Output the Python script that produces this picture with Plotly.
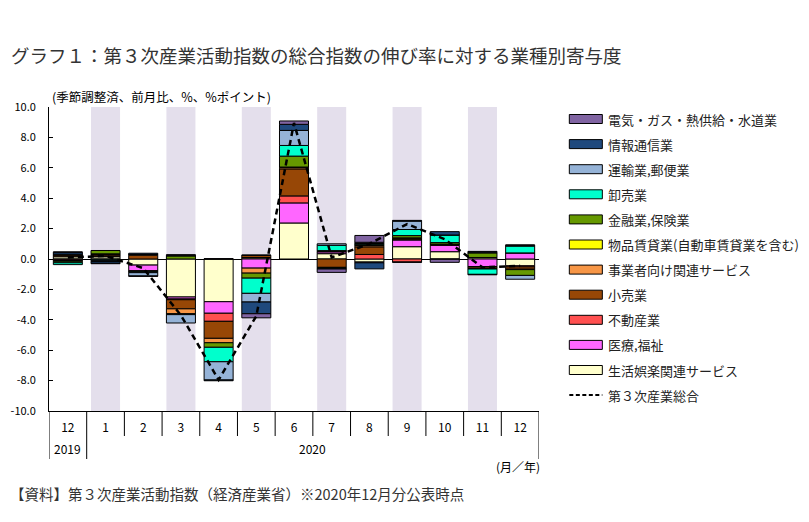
import plotly.graph_objects as go

# ---------------- data ----------------
months = ["2019-12", "2020-01", "2020-02", "2020-03", "2020-04", "2020-05", "2020-06",
          "2020-07", "2020-08", "2020-09", "2020-10", "2020-11", "2020-12"]
month_labels = ["12", "1", "2", "3", "4", "5", "6", "7", "8", "9", "10", "11", "12"]
year_labels = ["2019", "2020"]

y_tickvals = [10, 8, 6, 4, 2, 0, -2, -4, -6, -8, -10]
y_ticktext = ["10.0", "8.0", "6.0", "4.0", "2.0", "0.0", "-2.0", "-4.0", "-6.0", "-8.0", "-10.0"]

life_leisure = [0.15, 0.15, -0.40, -2.50, -2.81, 0.08, 2.37, 0.35, -0.20, 0.81, 0.48, 0.10, -0.45]
medical      = [-0.05, -0.05, -0.38, -0.13, -0.76, -0.60, 1.32, 0.12, -0.05, 0.44, 0.42, -0.50, 0.40]
real_estate  = [-0.05, 0.05, -0.02, -0.05, -0.53, 0.02, 0.46, 0.03, 0.30, -0.20, -0.02, -0.03, -0.07]
retail       = [0.12, 0.08, 0.25, -0.60, -1.12, 0.15, 1.78, -0.55, 0.50, 0.07, 0.05, -0.10, -0.15]
business     = [-0.05, 0.05, 0.05, -0.33, -0.29, -0.33, 0.10, 0.05, 0.10, 0.05, 0.03, -0.03, -0.03]
rental       = [0.00, 0.01, 0.00, -0.02, 0.00, 0.00, 0.02, 0.00, 0.02, 0.02, 0.00, 0.00, 0.00]
finance      = [-0.10, 0.22, -0.05, 0.20, -0.30, -0.33, 0.72, -0.05, 0.05, 0.15, 0.10, 0.30, -0.38]
wholesale    = [-0.12, -0.06, -0.05, -0.03, -0.95, -1.00, 0.70, 0.35, 0.05, 0.40, 0.50, -0.35, 0.45]
transport    = [0.05, -0.05, -0.22, -0.55, -1.20, -0.57, 0.99, 0.10, 0.08, 0.55, 0.00, 0.05, -0.25]
ict          = [0.12, -0.12, 0.08, 0.05, -0.05, -0.77, 0.40, -0.06, -0.40, 0.05, 0.22, 0.05, 0.05]
utilities    = [0.03, -0.03, -0.02, 0.03, 0.02, -0.27, 0.22, -0.22, 0.45, -0.02, -0.20, -0.03, 0.03]
total        = [0.10, 0.20, -0.60, -3.70, -7.95, -3.75, 8.95, 0.10, 1.00, 2.30, 1.30, -0.55, -0.45]

names_bottom_up = ["生活娯楽関連サービス", "医療,福祉", "不動産業", "小売業", "事業者向け関連サービス",
                   "物品賃貸業(自動車賃貸業を含む)", "金融業,保険業", "卸売業", "運輸業,郵便業",
                   "情報通信業", "電気・ガス・熱供給・水道業"]
total_name = "第３次産業総合"
colors_bottom_up = ["#FFFFCC", "#FF66FF", "#FF5050", "#974706", "#F79646",
                    "#FFFF00", "#669900", "#00FFCC", "#95B3D7", "#1F497D", "#8064A2"]
values_bottom_up = [life_leisure, medical, real_estate, retail, business, rental,
                    finance, wholesale, transport, ict, utilities]

# ---------------- layout geometry ----------------
OFF = 8  # page body margin
W_FIG, H_FIG = 809 - OFF, 522 - OFF
L, R, T, B = 49, 538.7, 107, 411   # plot area in page pixels
PW, PH = R - L, B - T
FONT = "Noto Sans CJK JP"


def px(x):
    return (x - L) / PW


def py(y):
    return (B - y) / PH


fig = go.Figure()

for name, vals, col in zip(names_bottom_up, values_bottom_up, colors_bottom_up):
    fig.add_trace(go.Bar(x=months, y=vals, name=name, showlegend=False,
                         marker=dict(color=col, line=dict(color="black", width=1))))

fig.add_trace(go.Scatter(x=months, y=total, name=total_name, mode="lines", showlegend=False,
                         line=dict(color="black", width=2.5, dash="6px,4px")))

shapes = []
# shaded month bands
for i in range(1, len(months), 2):
    shapes.append(dict(type="rect", xref="x", yref="paper", x0=i - 0.385, x1=i + 0.385,
                       y0=0, y1=1, fillcolor="#E4DFEC", line=dict(width=0), layer="below"))
# category table lines
for i in range(len(months) + 1):
    xb = i - 0.5
    y_end = py(459) if i in (0, 1, len(months)) else py(436)
    shapes.append(dict(type="line", xref="x", yref="paper", x0=xb, x1=xb, y0=0, y1=y_end,
                       line=dict(color="black", width=1)))

annotations = []
# custom legend
leg_items = list(zip(names_bottom_up[::-1], colors_bottom_up[::-1]))
for k, (name, col) in enumerate(leg_items):
    yc = 119 + 25.1 * k
    shapes.append(dict(type="rect", xref="paper", yref="paper", x0=px(569), x1=px(602),
                       y0=py(yc + 4.5), y1=py(yc - 4.5), fillcolor=col,
                       line=dict(color="black", width=1)))
    annotations.append(dict(text=name, xref="paper", yref="paper", x=px(606), y=py(yc),
                            xanchor="left", yanchor="middle", showarrow=False,
                            font=dict(family=FONT, size=13, color="#222")))
yc = 119 + 25.1 * len(leg_items)
shapes.append(dict(type="line", xref="paper", yref="paper", x0=px(569), x1=px(602),
                   y0=py(yc), y1=py(yc), line=dict(color="black", width=2, dash="4px,2.5px")))
annotations.append(dict(text=total_name, xref="paper", yref="paper", x=px(606), y=py(yc),
                        xanchor="left", yanchor="middle", showarrow=False,
                        font=dict(family=FONT, size=13, color="#222")))

# year labels
annotations.append(dict(text=year_labels[0], xref="x", yref="paper", x=0, y=py(448),
                        showarrow=False, yanchor="middle",
                        font=dict(family=FONT, size=12, color="black")))
annotations.append(dict(text=year_labels[1], xref="x", yref="paper", x=6.5, y=py(448),
                        showarrow=False, yanchor="middle",
                        font=dict(family=FONT, size=12, color="black")))
annotations.append(dict(text="(月／年)", xref="paper", yref="paper", x=px(542), y=py(466),
                        xanchor="right", yanchor="middle", showarrow=False,
                        font=dict(family=FONT, size=12, color="black")))
# unit label
annotations.append(dict(text="(季節調整済、前月比、%、%ポイント)", xref="paper", yref="paper",
                        x=px(50), y=py(97), xanchor="left", yanchor="middle", showarrow=False,
                        font=dict(family=FONT, size=12.5, color="black")))
# title
annotations.append(dict(text="グラフ１：第３次産業活動指数の総合指数の伸び率に対する業種別寄与度",
                        xref="paper", yref="paper", x=px(9), y=py(55), xanchor="left",
                        yanchor="middle", showarrow=False,
                        font=dict(family=FONT, size=18.5, color="#333")))
# source
annotations.append(dict(text="【資料】第３次産業活動指数（経済産業省）※2020年12月分公表時点",
                        xref="paper", yref="paper", x=px(8.5), y=py(493), xanchor="left",
                        yanchor="middle", showarrow=False,
                        font=dict(family=FONT, size=14.5, color="#333")))

fig.update_layout(
    width=W_FIG, height=H_FIG,
    margin=dict(l=L - OFF, r=809 - R, t=T - OFF, b=522 - B, pad=0, autoexpand=False),
    paper_bgcolor="white", plot_bgcolor="white",
    barmode="relative", bargap=0.23,
    showlegend=False,
    shapes=shapes, annotations=annotations,
    font=dict(family=FONT, color="black"),
    xaxis=dict(type="category", range=[-0.5, len(months) - 0.5], tickmode="array",
               tickvals=months, ticktext=month_labels, ticks="", showgrid=False,
               showline=True, linecolor="black", linewidth=1, zeroline=False,
               ticklabelstandoff=6, tickfont=dict(family=FONT, size=12, color="black"),
               automargin=False, fixedrange=True),
    yaxis=dict(range=[-10, 10], tickmode="array", tickvals=y_tickvals, ticktext=y_ticktext,
               ticks="inside", ticklen=4, tickcolor="black", showgrid=False,
               showline=True, linecolor="black", linewidth=1,
               zeroline=True, zerolinecolor="black", zerolinewidth=1,
               ticklabelstandoff=10, tickfont=dict(family=FONT, size=11, color="black"),
               automargin=False, fixedrange=True),
)

fig.write_html("out.html")
